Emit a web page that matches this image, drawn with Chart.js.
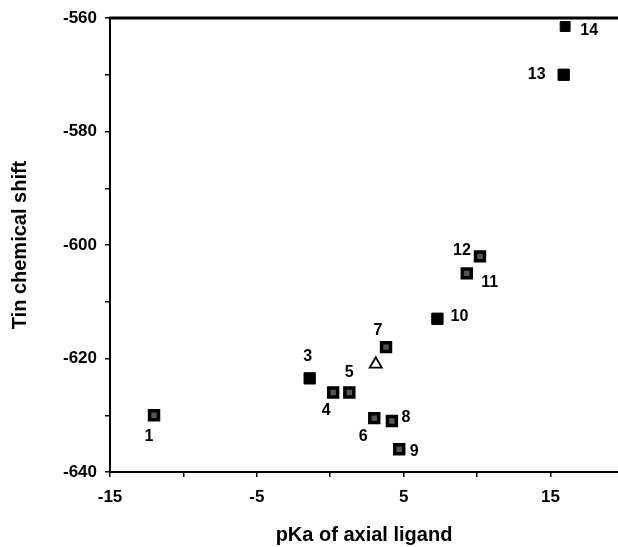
<!DOCTYPE html>
<html>
<head>
<meta charset="utf-8">
<script src="https://cdn.jsdelivr.net/npm/chart.js@4"></script>
<style>
  body { margin: 0; background: #fff; }
  canvas { display: block; }
</style>
</head>
<body>
<canvas id="chart" width="618" height="547"></canvas>
<script>
// compound numbers and values
const compounds = ['1', '3', '4', '5', '6', '7', '8', '9', '10', '11', '12', '13', '14']
const pKa = [-12, -1.4, 0.2, 1.3, 3.0, 3.8, 4.2, 4.7, 7.3, 9.3, 10.2, 15.9, 16.0]
const tinShift = [-630, -623.5, -626, -626, -630.5, -618, -631, -636, -613, -605, -602, -570, -561.5]
// the unlabelled open triangle
const triangleX = [3.1]
const triangleY = [-621]

const xTickLabels = [-15, -5, 5, 15]
const yTickLabels = [-560, -580, -600, -620, -640]

// marker look per compound: s = small dotted square, L = large solid square
const markerKind = ['s', 'L', 's', 's', 's', 's', 's', 's', 'L', 's', 's', 'L', 'M']
// label offsets from the marker, px
const labelDx = [-5, -2, -7, 0, -11, -8, 14, 15, 22, 23, -18, -27, 24]
const labelDy = [21, -22, 18, -20, 19, -17, -3, 2, -2, 9, -6, 0, 4]

const labelsPlugin = {
    id: 'labels',
    afterDatasetsDraw(chart) {
        const ctx = chart.ctx
        const meta = chart.getDatasetMeta(0)
        ctx.save()
        ctx.fillStyle = '#000'
        ctx.font = 'bold 16px "Liberation Sans", Arial, sans-serif'
        ctx.textAlign = 'center'
        ctx.textBaseline = 'middle'
        meta.data.forEach((el, i) => {
            ctx.fillText(compounds[i], el.x + labelDx[i], el.y + labelDy[i])
        })
        // thick top frame line
        const a = chart.chartArea
        ctx.strokeStyle = '#000'
        ctx.lineWidth = 3
        ctx.beginPath()
        ctx.moveTo(a.left - 1, a.top)
        ctx.lineTo(a.right, a.top)
        ctx.stroke()
        ctx.restore()
    }
}

const tickFont = { family: '"Liberation Sans", Arial, sans-serif', size: 17, weight: 'bold' }
const titleFont = { family: '"Liberation Sans", Arial, sans-serif', size: 20, weight: 'bold' }

new Chart(document.getElementById('chart'), {
    type: 'scatter',
    data: {
        datasets: [{
            data: pKa.map((x, i) => ({ x: x, y: tinShift[i] })),
            pointStyle: 'rect',
            pointRadius: markerKind.map(k => k === 'L' ? 8 : k === 'M' ? 7 : 6.3),
            backgroundColor: markerKind.map(k => k === 's' ? '#555' : '#000'),
            borderColor: '#000',
            borderWidth: markerKind.map(k => k === 's' ? 3.5 : 1)
        }, {
            data: triangleX.map((x, i) => ({ x: x, y: triangleY[i] })),
            pointStyle: 'triangle',
            pointRadius: 7,
            backgroundColor: '#fff',
            borderColor: '#000',
            borderWidth: 1.8
        }]
    },
    options: {
        responsive: false,
        devicePixelRatio: 1,
        animation: false,
        layout: { autoPadding: false, padding: { top: 18, right: 0, left: 0, bottom: 0 } },
        plugins: {
            legend: { display: false },
            tooltip: { enabled: false }
        },
        scales: {
            x: {
                type: 'linear',
                min: -15,
                max: 19.6,
                afterBuildTicks: s => { s.ticks = s.ticks.filter(t => t.value % 5 === 0) },
                afterFit: s => { s.height = 75; s.paddingRight = 0; s.paddingLeft = 0 },
                border: { display: true, color: '#000', width: 2 },
                grid: { drawOnChartArea: false, drawTicks: true, tickLength: 5, color: '#000', lineWidth: 1.5 },
                ticks: {
                    stepSize: 5,
                    color: '#000',
                    font: tickFont,
                    padding: 10,
                    maxRotation: 0,
                    autoSkip: false,
                    callback: v => xTickLabels.includes(v) ? String(v) : ''
                },
                title: {
                    display: true,
                    text: 'pKa of axial ligand',
                    color: '#000',
                    font: titleFont,
                    padding: { top: 9, bottom: 0 }
                }
            },
            y: {
                type: 'linear',
                min: -640,
                max: -560,
                afterFit: s => { s.width = 110; s.paddingTop = 0; s.paddingBottom = 0 },
                border: { display: true, color: '#000', width: 2 },
                grid: { drawOnChartArea: false, drawTicks: true, tickLength: 5, color: '#000', lineWidth: 1.5 },
                ticks: {
                    stepSize: 10,
                    color: '#000',
                    font: tickFont,
                    padding: 8,
                    autoSkip: false,
                    callback: v => yTickLabels.includes(v) ? String(v) : ''
                },
                title: {
                    display: true,
                    text: 'Tin chemical shift',
                    color: '#000',
                    font: titleFont,
                    padding: { top: 8, bottom: 0 }
                }
            }
        }
    },
    plugins: [labelsPlugin]
})
</script>
</body>
</html>
